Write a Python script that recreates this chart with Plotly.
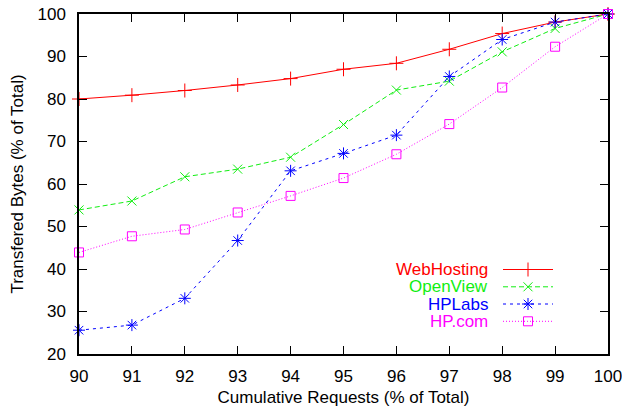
import plotly.graph_objects as go

x_vals = [90, 91, 92, 93, 94, 95, 96, 97, 98, 99, 100]
webhosting = [80.0, 80.9, 82.0, 83.3, 84.8, 87.0, 88.4, 91.7, 95.4, 98.1, 100.0]
openview = [53.9, 56.0, 61.7, 63.5, 66.3, 74.0, 82.1, 84.2, 91.1, 96.6, 100.0]
hplabs = [25.6, 26.8, 33.1, 46.7, 63.1, 67.2, 71.5, 85.3, 94.0, 98.1, 100.0]
hpcom = [43.9, 47.7, 49.3, 53.3, 57.2, 61.4, 67.0, 74.1, 82.7, 92.3, 100.0]

names = ["WebHosting", "OpenView", "HPLabs", "HP.com"]
series = [webhosting, openview, hplabs, hpcom]
colors = ["#ff0000", "#11ee11", "#0000ff", "#ff00ff"]
dashes = ["solid", "5px,3px", "3px,4px", "1px,2px"]
symbols = ["cross-thin-open", "x-thin-open", "asterisk-open", "square-open"]
sizes = [10, 9, 10, 9]

FONT = "Liberation Sans, Arial, Helvetica, sans-serif"
W, H = 622, 407
ML, MR, MT, MB = 79, 14, 14, 53

fig = go.Figure()
for name, ys, c, d, s, sz in zip(names, series, colors, dashes, symbols, sizes):
    fig.add_trace(go.Scatter(
        x=x_vals, y=ys, mode="lines+markers", name=name,
        line=dict(color=c, width=1, dash=d),
        marker=dict(symbol=s, size=sz, color=c, line=dict(color=c, width=1)),
        showlegend=False, cliponaxis=False,
    ))

# Custom gnuplot-style legend (text right-aligned, sample to the right)
leg_rows = [269.5, 286.8, 304.0, 321.3]
leg_text_right = 490
leg_line = [503, 553]
leg_marker = 528
for name, c, d, s, sz, yy in zip(names, colors, dashes, symbols, sizes, leg_rows):
    fig.add_trace(go.Scatter(
        x=leg_line, y=[yy, yy], mode="lines", xaxis="x2", yaxis="y2",
        line=dict(color=c, width=1, dash=d), showlegend=False, hoverinfo="skip"))
    fig.add_trace(go.Scatter(
        x=[leg_marker], y=[yy], mode="markers", xaxis="x2", yaxis="y2",
        marker=dict(symbol=s, size=sz, color=c, line=dict(color=c, width=1)),
        showlegend=False, hoverinfo="skip"))
    fig.add_annotation(x=leg_text_right, y=yy, xref="x2", yref="y2", text=name,
                       showarrow=False, xanchor="right", yanchor="middle",
                       font=dict(family=FONT, size=17, color=c))

axis_common = dict(showline=True, linecolor="black", linewidth=1.5, mirror="ticks",
                   ticks="inside", ticklen=8, tickwidth=1, tickcolor="black",
                   showgrid=False, zeroline=False, automargin=False,
                   ticklabeloverflow="allow",
                   tickfont=dict(family=FONT, size=17, color="black"))

fig.update_layout(
    width=W, height=H, margin=dict(l=ML, r=MR, t=MT, b=MB),
    plot_bgcolor="white", paper_bgcolor="white",
    font=dict(family=FONT, size=17, color="black"),
    xaxis=dict(range=[90, 100], dtick=1, tick0=90, ticklabelstandoff=6,
               title=dict(text="Cumulative Requests (% of Total)", standoff=6,
                          font=dict(family=FONT, size=17)),
               **axis_common),
    yaxis=dict(range=[20, 100], dtick=10, tick0=20, ticklabelstandoff=8,
               title=dict(text="Transfered Bytes (% of Total)", standoff=10,
                          font=dict(family=FONT, size=17)),
               **axis_common),
    xaxis2=dict(overlaying="x", range=[ML, W - MR], visible=False),
    yaxis2=dict(overlaying="y", range=[H - MB, MT], visible=False),
)

fig.write_html("out.html", config={"displayModeBar": False},
               post_script="document.body.style.margin='0';")
